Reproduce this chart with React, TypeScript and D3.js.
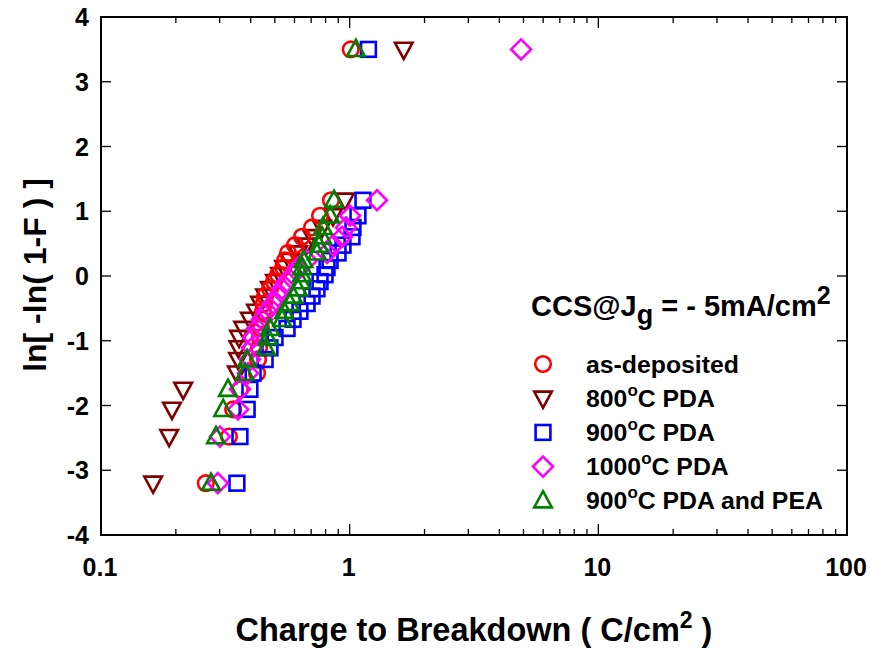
import React from "react";
import * as d3 from "d3";

// Weibull levels ln[-ln(1-F)] shared by all samples (bottom to top)
const levels = [
  -3.2, -2.48, -2.06, -1.75, -1.5, -1.29, -1.11, -0.95, -0.81, -0.67, -0.545,
  -0.425, -0.31, -0.197, -0.087, 0.02, 0.13, 0.24, 0.356, 0.476, 0.606, 0.75,
  0.93, 1.17, 3.5,
];

// Charge to breakdown (C/cm^2) per sample, one value per level
const asDeposited = [
  0.264, 0.327, 0.34, 0.362, 0.424, 0.428, 0.432, 0.436, 0.44, 0.444, 0.448,
  0.452, 0.457, 0.478, 0.496, 0.515, 0.54, 0.55, 0.565, 0.603, 0.643, 0.706,
  0.76, 0.841, 1.01,
];
const pda800 = [
  0.162, 0.188, 0.193, 0.214, 0.352, 0.356, 0.357, 0.359, 0.373, 0.397, 0.42,
  0.436, 0.457, 0.478, 0.501, 0.525, 0.545, 0.575, 0.62, 0.667, 0.706, 0.774,
  0.857, 0.958, 1.65,
];
const pda900 = [
  0.352, 0.362, 0.387, 0.397, 0.409, 0.457, 0.478, 0.501, 0.56, 0.592, 0.631,
  0.674, 0.706, 0.739, 0.76, 0.796, 0.811, 0.834, 0.898, 0.94, 1.022, 1.031,
  1.08, 1.131, 1.19,
];
const pda1000 = [
  0.295, 0.301, 0.356, 0.362, 0.39, 0.397, 0.405, 0.409, 0.424, 0.444, 0.465,
  0.492, 0.515, 0.535, 0.56, 0.592, 0.62, 0.674, 0.811, 0.857, 0.932, 0.967,
  1.003, 1.288, 4.89,
];
const pda900Pea = [
  0.277, 0.29, 0.31, 0.324, 0.379, 0.387, 0.461, 0.469, 0.478, 0.535, 0.545,
  0.575, 0.592, 0.62, 0.637, 0.643, 0.645, 0.652, 0.739, 0.753, 0.774, 0.781,
  0.834, 0.865, 1.06,
];

const xTicks = [0.1, 1, 10, 100];
const yTicks = [-4, -3, -2, -1, 0, 1, 2, 3, 4];

type Shape = "circle" | "down" | "square" | "diamond" | "up";

const series: { name: string; sup?: string; rest?: string; values: number[]; color: string; shape: Shape }[] = [
  { name: "as-deposited", values: asDeposited, color: "#ff0000", shape: "circle" },
  { name: "800", sup: "o", rest: "C PDA", values: pda800, color: "#800000", shape: "down" },
  { name: "900", sup: "o", rest: "C PDA", values: pda900, color: "#0000ff", shape: "square" },
  { name: "1000", sup: "o", rest: "C PDA", values: pda1000, color: "#ff00ff", shape: "diamond" },
  { name: "900", sup: "o", rest: "C PDA and PEA", values: pda900Pea, color: "#008000", shape: "up" },
];

// paint order of the point clouds (800C underneath, PEA on top)
const drawOrder = [1, 0, 2, 3, 4];

const W = 875;
const H = 650;
const left = 101;
const right = 847;
const top = 17;
const bottom = 535;
const font = "'Liberation Sans', Arial, Helvetica, sans-serif";

function Marker({ shape, x, y, color }: { shape: Shape; x: number; y: number; color: string }) {
  const common = { fill: "none", stroke: color, strokeWidth: 2.6 };
  if (shape === "circle") return <circle cx={x} cy={y} r={7.8} {...common} />;
  if (shape === "square") return <rect x={x - 7.4} y={y - 7.4} width={14.8} height={14.8} {...common} />;
  if (shape === "diamond") {
    const r = 10;
    return <path d={`M${x},${y - r}L${x + r},${y}L${x},${y + r}L${x - r},${y}Z`} {...common} />;
  }
  const s = 8.8;
  const h = 7.6;
  if (shape === "up")
    return <path d={`M${x},${y - h - 2}L${x + s},${y + h - 1}L${x - s},${y + h - 1}Z`} {...common} />;
  return <path d={`M${x},${y + h + 2}L${x + s},${y - h + 1}L${x - s},${y - h + 1}Z`} {...common} />;
}

export default function App() {
  const x = d3.scaleLog().domain([0.1, 100]).range([left, right]);
  const y = d3.scaleLinear().domain([-4, 4]).range([bottom, top]);

  const minor: number[] = [];
  for (const dec of [0.1, 1, 10]) for (let k = 2; k <= 9; k++) minor.push(dec * k);

  const tickFont = { fontFamily: font, fontWeight: 700, fontSize: 25, fill: "#000" };

  const legendX = 543;
  const legendTextX = 586;
  const legendY0 = 364;
  const legendStep = 34.2;

  return (
    <svg width={W} height={H} style={{ position: "absolute", left: 0, top: 0, background: "#fff" }}>
      <rect x={0} y={0} width={W} height={H} fill="#fff" />

      {/* ticks */}
      <g stroke="#000" strokeWidth={1.3}>
        {yTicks.map((t) => (
          <g key={"y" + t}>
            <line x1={left} x2={left + 10} y1={y(t)} y2={y(t)} />
            <line x1={right} x2={right - 10} y1={y(t)} y2={y(t)} />
          </g>
        ))}
        {xTicks.map((t) => (
          <g key={"x" + t}>
            <line x1={x(t)} x2={x(t)} y1={bottom} y2={bottom - 11} />
            <line x1={x(t)} x2={x(t)} y1={top} y2={top + 11} />
          </g>
        ))}
        {minor.map((t) => (
          <g key={"m" + t}>
            <line x1={x(t)} x2={x(t)} y1={bottom} y2={bottom - 6} />
            <line x1={x(t)} x2={x(t)} y1={top} y2={top + 6} />
          </g>
        ))}
      </g>
      <rect x={left} y={top} width={right - left} height={bottom - top} fill="none" stroke="#000" strokeWidth={2} />

      {/* tick labels */}
      {yTicks.map((t) => (
        <text key={"yl" + t} x={89} y={y(t)} dy="0.36em" textAnchor="end" {...tickFont}>
          {t}
        </text>
      ))}
      {xTicks.map((t) => (
        <text key={"xl" + t} x={x(t) - 1} y={576} textAnchor="middle" {...tickFont}>
          {t}
        </text>
      ))}

      {/* data */}
      {drawOrder.map((si) => {
        const s = series[si];
        return (
          <g key={"s" + si}>
            {s.values.map((v, i) => (
              <Marker key={i} shape={s.shape} x={x(v)} y={y(levels[i])} color={s.color} />
            ))}
          </g>
        );
      })}

      {/* axis titles */}
      <text x={474} y={641} textAnchor="middle" fontFamily={font} fontWeight={700} fontSize={32.5} fill="#000">
        Charge to Breakdown ( C/cm<tspan dy={-13} fontSize={23}>2</tspan>
        <tspan dy={13}> )</tspan>
      </text>
      <text
        transform="translate(46,275) rotate(-90)"
        textAnchor="middle"
        fontFamily={font}
        fontWeight={700}
        fontSize={32}
        fill="#000"
      >
        ln[ -ln( 1-F ) ]
      </text>

      {/* legend */}
      <text x={531} y={316} fontFamily={font} fontWeight={700} fontSize={29} fill="#000">
        CCS@J<tspan dy={8} fontSize={27}>g</tspan>
        <tspan dy={-8}> = - 5mA/cm</tspan>
        <tspan dy={-12} fontSize={25}>2</tspan>
      </text>
      {series.map((s, i) => {
        const cy = legendY0 + i * legendStep;
        return (
          <g key={"l" + i}>
            <Marker shape={s.shape} x={legendX} y={cy} color={s.color} />
            <text x={legendTextX} y={cy + 8.5} fontFamily={font} fontWeight={700} fontSize={24.8} fill="#000">
              {s.name}
              {s.sup ? (
                <>
                  <tspan dy={-11} fontSize={17}>{s.sup}</tspan>
                  <tspan dy={11}>{s.rest}</tspan>
                </>
              ) : null}
            </text>
          </g>
        );
      })}
    </svg>
  );
}
